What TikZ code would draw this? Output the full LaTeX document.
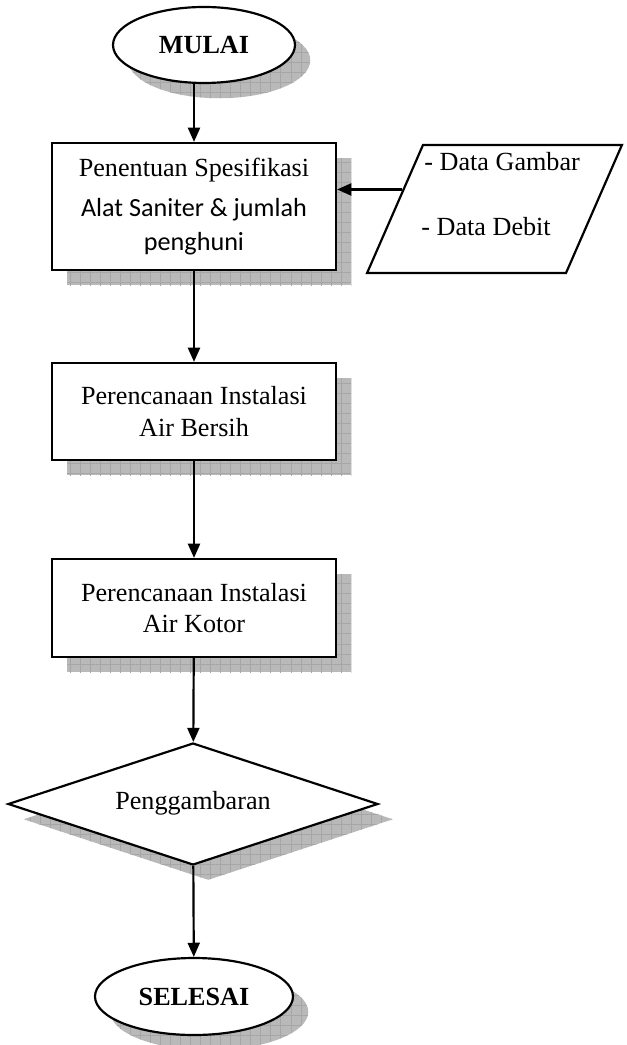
\documentclass[tikz,border=0pt]{standalone}
\usepackage{fontspec}
\setmainfont{Liberation Serif}
\newfontfamily\calibri{Carlito}
\usetikzlibrary{shapes.geometric,shadows,patterns.meta,arrows.meta,calc}
\newcommand{\px}{0.4587pt}
\begin{document}
\begin{tikzpicture}[x=0.4587pt, y=-0.4587pt,
  font=\fontsize{12pt}{14.5pt}\selectfont,
  shade/.style={general shadow={shadow xshift=7pt, shadow yshift=-7pt, fill=gray!55,
    postaction={pattern={Hatch[angle=0,distance=4.6pt,line width=0.3pt]}, pattern color=gray!70}}},
  proc/.style={rectangle, draw, fill=white, line width=1pt, shade, minimum width=284*\px, align=center, inner sep=0pt},
  term/.style={ellipse, draw, fill=white, line width=1pt, shade, inner sep=0pt, font=\fontsize{12pt}{14.5pt}\selectfont\bfseries},
  flow/.style={line width=1pt, -{Triangle[width=5.5pt,length=6.5pt]}}]
\useasboundingbox (0,0) rectangle (626,1045);

% nodes
\node[term, minimum width=182*\px, minimum height=76*\px] (mulai) at (204,45) {MULAI};
\node[proc, minimum height=127*\px] (spek) at (194,206.5) {Penentuan Spesifikasi\\[4pt]{\calibri Alat Saniter \& jumlah}\\[1pt]{\calibri penghuni}};
\node[trapezium, trapezium left angle=66.4, trapezium right angle=113.6, draw, line width=1pt,
  inner xsep=71.5*\px, inner ysep=64*\px] (data) at (494.5,209) {};
\node[anchor=west, inner sep=0pt] (gambar) at (424,162) {- Data Gambar};
\node[anchor=west, inner sep=0pt] (debit) at (421,227) {- Data Debit};
\node[proc, minimum height=97*\px] (bersih) at (194,411.5) {Perencanaan Instalasi\\Air Bersih};
\node[proc, minimum height=98*\px] (kotor) at (194,608) {Perencanaan Instalasi\\Air Kotor};
\node[diamond, draw, fill=white, line width=1pt, shade, aspect=3, inner sep=0pt,
  minimum width=370*\px, minimum height=122*\px] (gambaran) at (193,804) {\raisebox{3pt}{Penggambaran}};
\node[term, minimum width=198*\px, minimum height=77*\px] (selesai) at (194,996.5) {SELESAI};

% arrows
\draw[flow] (spek.north |- mulai.south) -- (spek.north);
\coordinate (datain) at ($(data.top left corner)!0.35!(data.bottom left corner)$);
\draw[flow] (datain) -- (datain -| spek.east);
\draw[flow] (spek) -- (bersih);
\draw[flow] (bersih) -- (kotor);
\draw[flow] (kotor) -- (gambaran);
\draw[flow] (gambaran) -- (selesai);
\end{tikzpicture}
\end{document}
